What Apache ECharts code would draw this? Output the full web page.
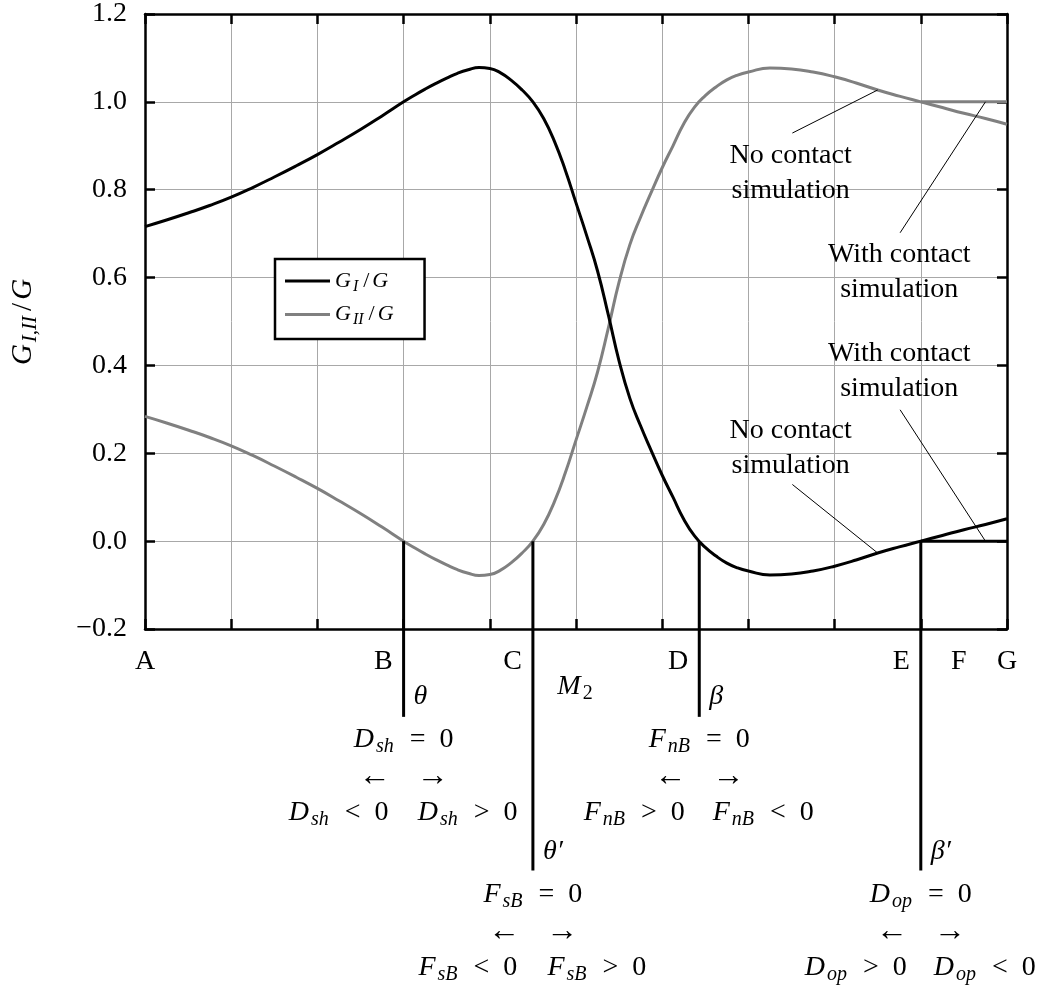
<!DOCTYPE html>
<html>
<head>
<meta charset="utf-8">
<script src="https://cdn.jsdelivr.net/npm/echarts@6/dist/echarts.min.js"></script>
<style>
  html, body { margin: 0; padding: 0; background: #fff; }
  #chart { width: 1038px; height: 990px; }
</style>
</head>
<body>
<div id="chart"></div>
<script>
// Energy release rate partition along the path A..G
const xs  = [0, 0.25, 0.5, 0.75, 1, 1.25, 1.5, 1.75, 2, 2.25, 2.5, 2.75, 3,
             3.125, 3.25, 3.375, 3.5, 3.625, 3.75, 3.875, 4, 4.125, 4.25, 4.375, 4.5,
             4.625, 4.75, 4.875, 5, 5.125, 5.25, 5.375, 5.5, 5.625, 5.75, 5.875, 6,
             6.125, 6.25, 6.375, 6.5, 6.625, 6.75, 6.875, 7,
             7.25, 7.5, 7.75, 8, 8.25, 8.5, 8.75, 9, 9.25, 9.5, 9.75, 10];
const gI  = [0.716, 0.731, 0.747, 0.764, 0.783, 0.805, 0.829, 0.854, 0.880, 0.908, 0.937, 0.968, 1.000,
             1.015, 1.029, 1.042, 1.054, 1.065, 1.073, 1.078, 1.076, 1.066, 1.049, 1.027, 1.000,
             0.962, 0.910, 0.845, 0.770, 0.695, 0.615, 0.515, 0.410, 0.325, 0.262, 0.205, 0.150,
             0.100, 0.050, 0.012, -0.014, -0.034, -0.050, -0.061, -0.068,
             -0.077, -0.075, -0.068, -0.057, -0.043, -0.027, -0.013, 0.000, 0.013, 0.026, 0.038, 0.051];
const gII = [0.284, 0.269, 0.253, 0.236, 0.217, 0.195, 0.171, 0.146, 0.120, 0.092, 0.063, 0.032, 0.000,
             -0.015, -0.029, -0.042, -0.054, -0.065, -0.073, -0.078, -0.076, -0.066, -0.049, -0.027, 0.000,
             0.038, 0.090, 0.155, 0.230, 0.305, 0.385, 0.485, 0.590, 0.675, 0.738, 0.795, 0.850,
             0.900, 0.950, 0.988, 1.014, 1.034, 1.050, 1.061, 1.068,
             1.077, 1.075, 1.068, 1.057, 1.043, 1.027, 1.013, 1.000, 0.987, 0.974, 0.962, 0.949];

// with contact simulation the partition is frozen after E
const contactX   = [9, 10];
const gIContact  = [0, 0];
const gIIContact = [1, 1];

// y axis
const yMin = -0.2, yMax = 1.2, yStep = 0.2;

// labelled positions on the path
const letterNames = ['A', 'B', 'C', 'D', 'E', 'F', 'G'];
const letterX     = [0, 3, 4.5, 6.43, 9, 9.44, 10];

// sign-change events
const eventX      = [3, 4.5, 6.43, 9];
const eventAngle  = ['θ', 'θ′', 'β', 'β′'];
const eventVar    = [['D', 'sh'], ['F', 'sB'], ['F', 'nB'], ['D', 'op']];
const eventLeft   = ['<', '<', '>', '>'];
const eventRight  = ['>', '>', '<', '<'];
const eventTier   = [0, 1, 0, 1];

// mode-mixity marker
const m2X = 5;

// call-outs: text, text centre, leader start, leader target series and x
const noteText   = ['No contact\nsimulation', 'With contact\nsimulation', 'With contact\nsimulation', 'No contact\nsimulation'];
const noteAt     = [[7.49, 0.838], [8.75, 0.613], [8.75, 0.386], [7.49, 0.212]];
const noteFrom   = [[7.51, 0.929], [8.76, 0.702], [8.76, 0.299], [7.51, 0.129]];
const noteSeries = ['gII', 'gIIContact', 'gIContact', 'gI'];
const noteToX    = [8.5, 9.75, 9.75, 8.5];

const FONT = '"Liberation Serif", "DejaVu Serif", serif';
const FS = 28;
const GRAY = '#808080';
const GRID = '#a8a8a8';

const curves = {
  gI:  { x: xs, y: gI },
  gII: { x: xs, y: gII },
  gIContact:  { x: contactX, y: gIContact },
  gIIContact: { x: contactX, y: gIIContact }
};

function pairs(x, y) { return x.map((v, i) => [v, y[i]]); }
function valueAt(c, x) {
  for (let i = 1; i < c.x.length; i++) {
    if (x <= c.x[i]) {
      const t = (x - c.x[i - 1]) / (c.x[i] - c.x[i - 1]);
      return c.y[i - 1] + t * (c.y[i] - c.y[i - 1]);
    }
  }
  return c.y[c.y.length - 1];
}

// rich text styles for math
function richSet(size, subSize, shift, colorKey) {
  const r = {
    i:  { fontFamily: FONT, fontStyle: 'italic', fontSize: size, padding: [0, 1, 0, 0] },
    r:  { fontFamily: FONT, fontStyle: 'normal', fontSize: size },
    sl: { fontFamily: FONT, fontStyle: 'normal', fontSize: size, padding: [0, 3, 0, 3] },
    ar: { fontFamily: FONT, fontStyle: 'normal', fontSize: size + 4 },
    s:  { fontFamily: FONT, fontStyle: 'italic', fontSize: subSize, padding: [shift, 2, 0, 1] },
    sr: { fontFamily: FONT, fontStyle: 'normal', fontSize: subSize, padding: [shift, 2, 0, 1] }
  };
  Object.values(r).forEach(o => { o[colorKey] = '#000'; });
  return r;
}
const RICH_AXIS = richSet(FS + 1, 21, 14, 'color');
const RICH_LEG  = richSet(22, 16, 11, 'color');
const RICH_G    = richSet(FS, 20, 14, 'fill');

const chart = echarts.init(document.getElementById('chart'), null, { renderer: 'canvas' });

const dropDepth = [-0.4, -0.75];

const series = [
  { name: 'GI', type: 'line', data: pairs(xs, gI), smooth: 0.5, showSymbol: false, color: '#000',
    lineStyle: { color: '#000', width: 3 }, z: 5, silent: true },
  { name: 'GII', type: 'line', data: pairs(xs, gII), smooth: 0.5, showSymbol: false, color: GRAY,
    lineStyle: { color: GRAY, width: 3 }, z: 4, silent: true },
  { name: 'GIc', type: 'line', data: pairs(contactX, gIContact), showSymbol: false,
    lineStyle: { color: '#000', width: 3 }, z: 5, silent: true },
  { name: 'GIIc', type: 'line', data: pairs(contactX, gIIContact), showSymbol: false,
    lineStyle: { color: GRAY, width: 3 }, z: 4, silent: true }
];

eventX.forEach((x, k) => {
  series.push({
    type: 'line', data: [[x, 0], [x, dropDepth[eventTier[k]]]], showSymbol: false, clip: false,
    lineStyle: { color: '#000', width: 3 }, z: 6, silent: true
  });
});

noteFrom.forEach((p, k) => {
  const c = curves[noteSeries[k]];
  series.push({
    type: 'line', data: [p, [noteToX[k], valueAt(c, noteToX[k])]], showSymbol: false, clip: false,
    lineStyle: { color: '#000', width: 1 }, z: 7, silent: true
  });
});

const axisLine = { show: true, onZero: false, lineStyle: { color: '#000', width: 2.5 } };
const tickIn = { show: true, inside: true, length: 10, lineStyle: { color: '#000', width: 2.5 } };

chart.setOption({
  animation: false,
  backgroundColor: '#fff',
  grid: { left: 145, right: 31, top: 12, bottom: 361, containLabel: false },
  legend: {
    data: [{ name: 'GI', icon: 'rect' }, { name: 'GII', icon: 'rect' }],
    orient: 'vertical', left: 275, top: 259,
    itemWidth: 45, itemHeight: 3, itemGap: 9,
    selectedMode: false,
    backgroundColor: '#fff',
    borderColor: '#000', borderWidth: 2.5, borderRadius: 0,
    padding: [11, 30, 11, 10],
    formatter: n => n === 'GI' ? '{i|G}{s|I}{sl|/}{i|G}' : '{i|G}{s|II}{sl|/}{i|G}',
    textStyle: { rich: RICH_LEG, lineHeight: 22 }
  },
  xAxis: [
    { type: 'value', min: 0, max: 10, interval: 1, position: 'bottom',
      axisLine, axisTick: tickIn, axisLabel: { show: false },
      splitLine: { show: true, lineStyle: { color: GRID, width: 1 } } },
    { type: 'value', min: 0, max: 10, interval: 1, position: 'top',
      axisLine, axisTick: tickIn, axisLabel: { show: false }, splitLine: { show: false } }
  ],
  yAxis: [
    { type: 'value', min: yMin, max: yMax, interval: yStep, position: 'left',
      axisLine, axisTick: tickIn,
      axisLabel: { margin: 18, fontFamily: FONT, fontSize: FS, color: '#000',
        formatter: v => (v < -1e-9 ? '\u2212' : '') + Math.abs(v).toFixed(1) },
      splitLine: { show: true, lineStyle: { color: GRID, width: 1 } },
      name: '{i|G}{s|I,II}{sl|/}{i|G}', nameLocation: 'middle', nameGap: 104, nameRotate: 90,
      nameTextStyle: { rich: RICH_AXIS } },
    { type: 'value', min: yMin, max: yMax, interval: yStep, position: 'right',
      axisLine, axisTick: tickIn, axisLabel: { show: false }, splitLine: { show: false } }
  ],
  series
});

// labels positioned through the axis scales
function P(x, y) { return chart.convertToPixel({ gridIndex: 0 }, [x, y]); }
const g = [];
function txt(text, x, y, align, extra) {
  g.push({ type: 'text', z: 100, silent: true,
    style: Object.assign({ text, x, y, align, verticalAlign: 'middle', fill: '#000',
      fontFamily: FONT, fontSize: FS, rich: RICH_G }, extra || {}) });
}
const baseY = P(0, yMin)[1];

letterX.forEach((x, k) => {
  const p = P(x, yMin);
  if (eventX.indexOf(x) >= 0) txt(letterNames[k], p[0] - 11, baseY + 33, 'right');
  else txt(letterNames[k], p[0], baseY + 33, 'center');
});

eventX.forEach((x, k) => {
  const px = P(x, 0)[0];
  const off = eventTier[k] ? 155 : 0;
  const v = eventVar[k];
  txt('{i|' + eventAngle[k] + '}', px + 10, baseY + 68 + off, 'left');
  txt('{i|' + v[0] + '}{s|' + v[1] + '}{r|\u2002=\u20020}', px, baseY + 111 + off, 'center');
  txt('{ar|\u2190}', px - 29, baseY + 148 + off, 'center');
  txt('{ar|\u2192}', px + 29, baseY + 148 + off, 'center');
  txt('{i|' + v[0] + '}{s|' + v[1] + '}{r|\u2002' + eventLeft[k] + '\u20020}', px - 65, baseY + 184 + off, 'center');
  txt('{i|' + v[0] + '}{s|' + v[1] + '}{r|\u2002' + eventRight[k] + '\u20020}', px + 64, baseY + 184 + off, 'center');
});

txt('{i|M}{sr|2}', P(m2X, 0)[0], baseY + 58, 'center');

noteText.forEach((t, k) => {
  const p = P(noteAt[k][0], noteAt[k][1]);
  txt(t, p[0], p[1], 'center', { rich: null, lineHeight: 35 });
});

chart.setOption({ graphic: g });
</script>
</body>
</html>
